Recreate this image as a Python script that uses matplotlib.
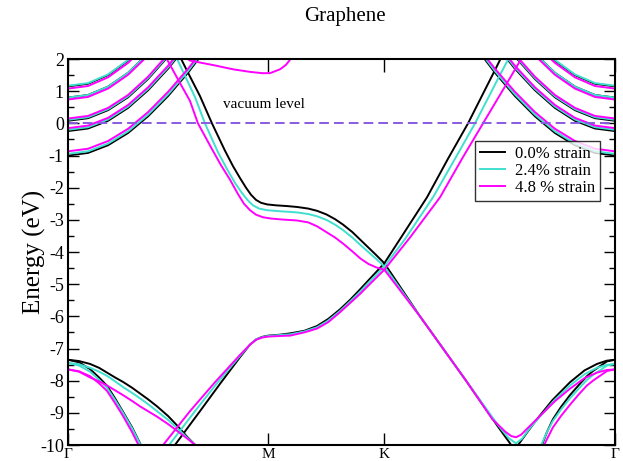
# Graphene band structure under strain (vacuum level at 0 eV)

import numpy as np
from matplotlib import pyplot as plt
from matplotlib.ticker import MultipleLocator

plt.rcParams['font.family'] = ['Liberation Serif', 'DejaVu Serif']
plt.rcParams['axes.unicode_minus'] = False

# high-symmetry points along the path (Gamma - M - K - Gamma)
k_ticks = [0.0, 1.0, 1.577, 2.732]
k_labels = ['Γ', 'M', 'K', 'Γ']
k_end = 2.732

strain_labels = ['0.0% strain', '2.4% strain', '4.8 % strain']
strain_colors = ['black', '#40e0d0', '#ff00ff']

# nearly-free-electron (vacuum) bands, energy vs distance from Gamma (both ends)
k_nfe = [0.0, 0.1, 0.2, 0.3, 0.4, 0.5, 0.6, 0.7]
nfe_00 = [[-1.00, -0.92, -0.68, -0.30, 0.22, 0.85, 1.58, 2.40],
          [-0.24, -0.16, 0.08, 0.48, 1.03, 1.70, 2.48, 3.30],
          [0.08, 0.16, 0.41, 0.81, 1.38, 2.08, 2.90, 3.80],
          [0.80, 0.88, 1.14, 1.57, 2.17, 2.90, 3.70, 4.60],
          [1.15, 1.23, 1.50, 1.95, 2.55, 3.30, 4.10, 5.00]]
nfe_24 = [[-0.95, -0.87, -0.63, -0.25, 0.27, 0.90, 1.63, 2.45],
          [-0.20, -0.12, 0.12, 0.52, 1.07, 1.74, 2.52, 3.35],
          [0.11, 0.19, 0.44, 0.84, 1.41, 2.11, 2.93, 3.85],
          [0.80, 0.88, 1.14, 1.57, 2.17, 2.90, 3.70, 4.60],
          [1.17, 1.25, 1.52, 1.97, 2.57, 3.32, 4.12, 5.00]]
nfe_48 = [[-0.87, -0.79, -0.55, -0.17, 0.35, 0.98, 1.70, 2.50],
          [-0.15, -0.07, 0.17, 0.57, 1.12, 1.79, 2.57, 3.40],
          [0.15, 0.23, 0.48, 0.88, 1.45, 2.15, 2.97, 3.90],
          [0.74, 0.82, 1.08, 1.51, 2.11, 2.84, 3.65, 4.55],
          [1.08, 1.16, 1.43, 1.88, 2.48, 3.23, 4.05, 4.95]]

# pi* band, Gamma-M-K part
pis_left_k_00 = [0.549, 0.599, 0.659, 0.719, 0.784, 0.824, 0.859, 0.889, 0.914, 0.939, 0.964, 0.994,
                 1.04, 1.09, 1.144, 1.2, 1.244, 1.29, 1.334, 1.374, 1.42, 1.46, 1.50, 1.54, 1.58]
pis_left_e_00 = [2.20, 1.58, 0.85, 0.00, -0.85, -1.33, -1.70, -2.00, -2.22, -2.38, -2.47, -2.52,
                 -2.55, -2.57, -2.60, -2.65, -2.72, -2.83, -2.98, -3.15, -3.38, -3.62, -3.86, -4.10, -4.35]
pis_left_k_24 = [0.539, 0.584, 0.634, 0.684, 0.749, 0.794, 0.834, 0.869, 0.899, 0.924, 0.954, 0.994,
                 1.05, 1.10, 1.144, 1.2, 1.244, 1.29, 1.334, 1.374, 1.42, 1.46, 1.50, 1.54, 1.58]
pis_left_e_24 = [2.08, 1.48, 0.82, 0.00, -0.90, -1.42, -1.85, -2.17, -2.40, -2.55, -2.65, -2.70,
                 -2.73, -2.75, -2.77, -2.82, -2.89, -3.00, -3.15, -3.32, -3.55, -3.78, -4.00, -4.22, -4.45]
pis_left_k_48 = [0.490, 0.564, 0.609, 0.649, 0.719, 0.764, 0.809, 0.849, 0.879, 0.909, 0.939, 0.974,
                 1.014, 1.07, 1.144, 1.2, 1.244, 1.29, 1.334, 1.374, 1.42, 1.46, 1.50, 1.54, 1.58]
pis_left_e_48 = [2.04, 1.20, 0.70, 0.00, -0.80, -1.30, -1.75, -2.20, -2.50, -2.70, -2.84, -2.92,
                 -2.96, -2.99, -3.02, -3.08, -3.20, -3.38, -3.55, -3.74, -3.98, -4.20, -4.37, -4.48, -4.55]

# pi* band, K-Gamma part
pis_right_k_00 = [1.58, 1.658, 1.793, 1.898, 1.998, 2.128, 2.168]
pis_right_e_00 = [-4.35, -3.60, -2.30, -1.10, 0.00, 1.60, 2.10]
pis_right_k_24 = [1.58, 1.683, 1.823, 1.933, 2.033, 2.153, 2.208]
pis_right_e_24 = [-4.45, -3.60, -2.30, -1.10, 0.00, 1.45, 2.10]
pis_right_k_48 = [1.58, 1.708, 1.858, 1.968, 2.073, 2.183, 2.273]
pis_right_e_48 = [-4.55, -3.55, -2.30, -1.10, 0.00, 1.15, 2.10]

# pi band (through M and K, down towards Gamma)
pi_k_00 = [0.520, 0.534, 0.659, 0.759, 0.859, 0.909, 0.939, 0.969, 1.0, 1.06, 1.109, 1.18, 1.244, 1.3,
           1.359, 1.41, 1.459, 1.52, 1.58, 1.758, 1.988, 2.15, 2.208, 2.228, 2.248, 2.3, 2.342, 2.42,
           2.507, 2.58, 2.642, 2.69, 2.732]
pi_e_00 = [-10.1, -10.0, -8.95, -8.10, -7.27, -6.88, -6.72, -6.64, -6.60, -6.57, -6.53, -6.45, -6.30, -6.08,
           -5.78, -5.48, -5.16, -4.75, -4.35, -6.00, -8.00, -9.45, -9.95, -10.15, -10.0, -9.55, -9.20, -8.60,
           -8.05, -7.68, -7.48, -7.38, -7.35]
pi_k_24 = [0.49, 0.505, 0.634, 0.744, 0.859, 0.909, 0.939, 0.969, 1.0, 1.06, 1.109, 1.18, 1.244, 1.3,
           1.359, 1.41, 1.459, 1.52, 1.58, 1.758, 1.988, 2.15, 2.20, 2.238, 2.268, 2.31, 2.357, 2.43,
           2.507, 2.58, 2.642, 2.69, 2.732]
pi_e_24 = [-10.1, -10.0, -8.95, -8.08, -7.23, -6.88, -6.72, -6.65, -6.61, -6.58, -6.56, -6.47, -6.34, -6.13,
           -5.83, -5.53, -5.23, -4.83, -4.45, -6.00, -8.00, -9.40, -9.78, -9.95, -9.80, -9.45, -9.12, -8.60,
           -8.15, -7.80, -7.60, -7.51, -7.48]
pi_k_48 = [0.46, 0.475, 0.609, 0.734, 0.859, 0.909, 0.939, 0.969, 1.0, 1.06, 1.109, 1.18, 1.244, 1.3,
           1.359, 1.41, 1.459, 1.52, 1.58, 1.758, 1.988, 2.12, 2.183, 2.213, 2.238, 2.263, 2.3, 2.357,
           2.43, 2.507, 2.58, 2.642, 2.69, 2.732]
pi_e_48 = [-10.1, -10.0, -8.95, -8.05, -7.20, -6.88, -6.73, -6.66, -6.63, -6.61, -6.60, -6.50, -6.38, -6.18,
           -5.87, -5.58, -5.30, -4.92, -4.55, -6.00, -8.00, -9.20, -9.58, -9.72, -9.76, -9.68, -9.45, -9.10,
           -8.65, -8.25, -7.92, -7.75, -7.67, -7.65]

# sigma bands near Gamma (left end, towards M)
sig_flat_k = [0.0, 0.055, 0.11, 0.155, 0.195, 0.235, 0.275, 0.32, 0.36, 0.4, 0.445, 0.5, 0.549, 0.6, 0.644, 0.684]
sig_flat_00 = [-7.35, -7.39, -7.48, -7.60, -7.75, -7.90, -8.04, -8.22, -8.40, -8.58, -8.80, -9.10, -9.42, -9.78, -10.05, -10.3]
sig_flat_24 = [-7.45, -7.49, -7.60, -7.72, -7.85, -8.02, -8.20, -8.38, -8.55, -8.73, -8.95, -9.22, -9.50, -9.80, -10.05, -10.3]
sig_flat_48 = [-7.65, -7.72, -7.90, -8.02, -8.15, -8.30, -8.45, -8.63, -8.80, -8.95, -9.12, -9.35, -9.58, -9.82, -10.05, -10.3]
sig_steep_k = [0.0, 0.055, 0.11, 0.155, 0.195, 0.235, 0.275, 0.32, 0.36, 0.385]
sig_steep_00 = [-7.35, -7.43, -7.64, -7.90, -8.16, -8.55, -8.97, -9.45, -9.95, -10.3]
sig_steep_24 = [-7.45, -7.53, -7.72, -7.97, -8.22, -8.60, -9.00, -9.48, -9.97, -10.3]
sig_steep_48 = [-7.65, -7.71, -7.86, -8.08, -8.32, -8.70, -9.10, -9.60, -10.1, -10.4]

# steep sigma band near Gamma (right end), distance from Gamma
sig_right_dk = [0.0, 0.04, 0.075, 0.11, 0.14, 0.18, 0.225, 0.27, 0.31, 0.34, 0.365, 0.385]
sig_right_00 = [-7.35, -7.40, -7.55, -7.70, -7.86, -8.13, -8.45, -8.82, -9.20, -9.60, -10.0, -10.3]
sig_right_24 = [-7.48, -7.53, -7.68, -7.82, -7.98, -8.24, -8.55, -8.90, -9.25, -9.60, -9.95, -10.25]
sig_right_48 = [-7.65, -7.70, -7.85, -8.00, -8.15, -8.42, -8.75, -9.10, -9.45, -9.82, -10.15, -10.45]

# band dipping below 2 eV around M at 4.8 % strain
extra_k_48 = [0.589, 0.609, 0.659, 0.734, 0.824, 0.909, 0.969, 1.009, 1.059, 1.089, 1.114]
extra_e_48 = [2.05, 1.95, 1.89, 1.80, 1.68, 1.60, 1.56, 1.56, 1.68, 1.82, 2.02]

nfe_sets = [nfe_00, nfe_24, nfe_48]
pis_left = [(pis_left_k_00, pis_left_e_00), (pis_left_k_24, pis_left_e_24), (pis_left_k_48, pis_left_e_48)]
pis_right = [(pis_right_k_00, pis_right_e_00), (pis_right_k_24, pis_right_e_24), (pis_right_k_48, pis_right_e_48)]
pi_sets = [(pi_k_00, pi_e_00), (pi_k_24, pi_e_24), (pi_k_48, pi_e_48)]
sig_flat = [sig_flat_00, sig_flat_24, sig_flat_48]
sig_steep = [sig_steep_00, sig_steep_24, sig_steep_48]
sig_right = [sig_right_00, sig_right_24, sig_right_48]

fig = plt.figure(figsize=(6.23, 4.61), dpi=100)
ax = fig.add_axes([68 / 623, 16 / 461, 547 / 623, 386 / 461])

lw = 1.4
for i in range(3):
    c = strain_colors[i]
    for band in nfe_sets[i]:
        ax.plot(k_nfe, band, color=c, lw=lw)
        ax.plot(k_end - np.array(k_nfe), band, color=c, lw=lw)
    ax.plot(*pis_left[i], color=c, lw=lw)
    ax.plot(*pis_right[i], color=c, lw=lw)
    ax.plot(*pi_sets[i], color=c, lw=lw, label=strain_labels[i])
    ax.plot(sig_flat_k, sig_flat[i], color=c, lw=lw)
    ax.plot(sig_steep_k, sig_steep[i], color=c, lw=lw)
    ax.plot(k_end - np.array(sig_right_dk), sig_right[i], color=c, lw=lw)
    if i == 2:
        ax.plot(extra_k_48, extra_e_48, color=c, lw=lw)

# vacuum level
ax.axhline(0.0, color='#8a5ae0', lw=1.4, linestyle=(0, (5, 2.6)))
ax.text(0.775, 0.6, 'vacuum level', fontsize=11, va='center', ha='left')

ax.set_xlim(0, k_end)
ax.set_ylim(-10, 2)
ax.set_xticks(k_ticks)
ax.set_xticklabels(k_labels, fontsize=11)
ax.yaxis.set_major_locator(MultipleLocator(1))
ax.yaxis.set_minor_locator(MultipleLocator(0.5))
ax.tick_params(axis='y', which='major', direction='in', length=8, width=1, left=True, right=True, labelsize=13, pad=3)
ax.tick_params(axis='y', which='minor', direction='in', length=4, width=1, left=True, right=True)
ax.tick_params(axis='x', which='major', direction='in', length=9, width=1, top=True, bottom=True, pad=2)
for s in ax.spines.values():
    s.set_linewidth(1.5)

ax.set_ylabel('Energy (eV)', fontsize=18)
ax.yaxis.set_label_coords(-0.041, 0.5)
fig.text(345 / 623, 1 - 17 / 461, 'Graphene', fontsize=15, ha='center', va='center')

leg = ax.legend(loc='upper right', bbox_to_anchor=(0.973, 0.787), fontsize=12, frameon=True, fancybox=False,
                edgecolor='black', handlelength=1.5, handletextpad=0.6, labelspacing=0.05, borderpad=0.3,
                borderaxespad=0.0)
leg.get_frame().set_linewidth(1.0)

plt.savefig('out.png', dpi=100)
